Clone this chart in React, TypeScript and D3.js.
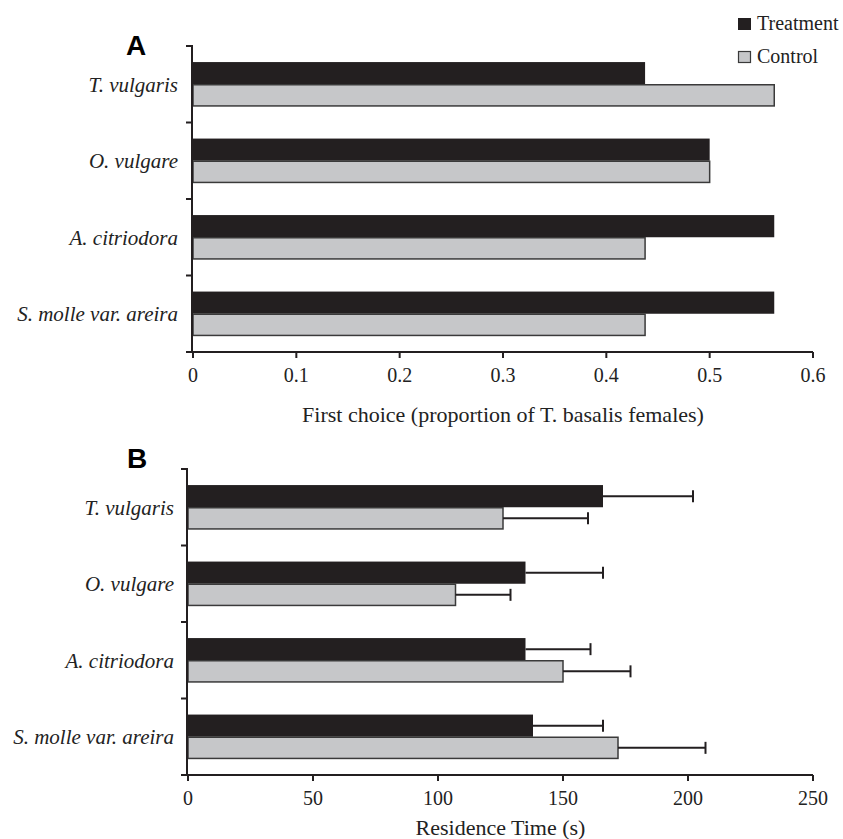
import * as d3 from 'd3'

const categories = ['T. vulgaris', 'O. vulgare', 'A. citriodora', 'S. molle var. areira']
const series = ['Treatment', 'Control']

// Panel A: first choice proportions
const firstTreatment = [0.4375, 0.5, 0.5625, 0.5625]
const firstControl = [0.5625, 0.5, 0.4375, 0.4375]
const firstTicks = [0, 0.1, 0.2, 0.3, 0.4, 0.5, 0.6]

// Panel B: residence time (s) with error
const resTreatment = [166, 135, 135, 138]
const resTreatmentErr = [36, 31, 26, 28]
const resControl = [126, 107, 150, 172]
const resControlErr = [34, 22, 27, 35]
const resTicks = [0, 50, 100, 150, 200, 250]

const BLACK = '#231f20'
const GREY = '#c6c7c9'
const EDGE = '#3a3a3a'
const FONT = '"Liberation Serif", Tinos, "Times New Roman", serif'

interface PanelProps {
  letter: string
  letterX: number
  letterY: number
  left: number
  right: number
  top: number
  bottom: number
  max: number
  ticks: number[]
  fmt: (v: number) => string
  treat: number[]
  ctrl: number[]
  treatErr?: number[]
  ctrlErr?: number[]
  title: string
  titleDy: number
  labelX: number
}

function Panel(p: PanelProps) {
  const x = d3.scaleLinear().domain([0, p.max]).range([p.left, p.right])
  const y = d3.scaleBand<string>().domain(categories).range([p.top, p.bottom]).paddingInner(0.42).paddingOuter(0.21)
  const inner = d3.scaleBand<string>().domain(series).range([0, y.bandwidth()])
  const step = y.step()
  const bounds = d3.range(categories.length).map(i => p.top + i * step)

  const bar = (v: number, i: number, s: string, fill: string, err?: number) => {
    const yy = (y(categories[i]) || 0) + (inner(s) || 0)
    const h = inner.bandwidth()
    const isCtrl = s === 'Control'
    return (
      <g key={s + i}>
        <rect x={x(0)} y={isCtrl ? yy + 0.5 : yy} width={x(v) - x(0)} height={isCtrl ? h - 1 : h}
          fill={fill} stroke={isCtrl ? EDGE : 'none'} strokeWidth={1.5} />
        {err !== undefined && (
          <g stroke={BLACK} strokeWidth={2}>
            <line x1={x(v)} x2={x(v + err)} y1={yy + h / 2} y2={yy + h / 2} />
            <line x1={x(v + err)} x2={x(v + err)} y1={yy + h / 2 - 6} y2={yy + h / 2 + 6} />
          </g>
        )}
      </g>
    )
  }

  return (
    <g>
      <text x={p.letterX} y={p.letterY} fontFamily="Arial, Helvetica, sans-serif" fontWeight="bold" fontSize={28} textAnchor="middle">{p.letter}</text>
      {categories.map((c, i) => (
        <g key={c}>
          {bar(p.treat[i], i, 'Treatment', BLACK, p.treatErr ? p.treatErr[i] : undefined)}
          {bar(p.ctrl[i], i, 'Control', GREY, p.ctrlErr ? p.ctrlErr[i] : undefined)}
          <text x={p.labelX} y={(y(c) || 0) + y.bandwidth() / 2} dy="0.35em" textAnchor="end"
            fontFamily={FONT} fontStyle="italic" fontSize={21} fill="#222">{c}</text>
        </g>
      ))}
      <g stroke={BLACK} strokeWidth={2}>
        <line x1={p.left - 1} x2={p.left - 1} y1={p.top} y2={p.bottom} />
        {bounds.map(b => <line key={b} x1={p.left - 7} x2={p.left} y1={b} y2={b} />)}
        <line x1={p.left - 7} x2={p.right} y1={p.bottom} y2={p.bottom} />
        {p.ticks.map(t => <line key={t} x1={x(t)} x2={x(t)} y1={p.bottom} y2={p.bottom + 6} />)}
      </g>
      {p.ticks.map(t => (
        <text key={t} x={x(t)} y={p.bottom + 30} textAnchor="middle" fontFamily={FONT} fontSize={20} fill="#222">{p.fmt(t)}</text>
      ))}
      <text x={(p.left + p.right) / 2} y={p.bottom + p.titleDy} textAnchor="middle" fontFamily={FONT} fontSize={22} fill="#222">{p.title}</text>
    </g>
  )
}

export default function App() {
  return (
    <svg width={843} height={839} style={{ position: 'absolute', left: 0, top: 0, background: '#fff' }}>
      <rect width={843} height={839} fill="#fff" />
      <Panel letter="A" letterX={136} letterY={55} left={193} right={813} top={46} bottom={352} max={0.6}
        ticks={firstTicks} fmt={v => (v === 0 ? '0' : d3.format('.1f')(v))}
        treat={firstTreatment} ctrl={firstControl}
        title="First choice (proportion of T. basalis females)" titleDy={70} labelX={178} />
      <Panel letter="B" letterX={137} letterY={468} left={188} right={813} top={469} bottom={775} max={250}
        ticks={resTicks} fmt={v => String(v)}
        treat={resTreatment} ctrl={resControl} treatErr={resTreatmentErr} ctrlErr={resControlErr}
        title="Residence Time (s)" titleDy={60} labelX={174} />
      <g fontFamily={FONT} fontSize={20} fill="#222">
        <rect x={738} y={18} width={13} height={12} fill={BLACK} />
        <text x={757} y={30}>{series[0]}</text>
        <rect x={738.5} y={51.5} width={12} height={11} fill={GREY} stroke={EDGE} strokeWidth={1.2} />
        <text x={757} y={63}>{series[1]}</text>
      </g>
    </svg>
  )
}
